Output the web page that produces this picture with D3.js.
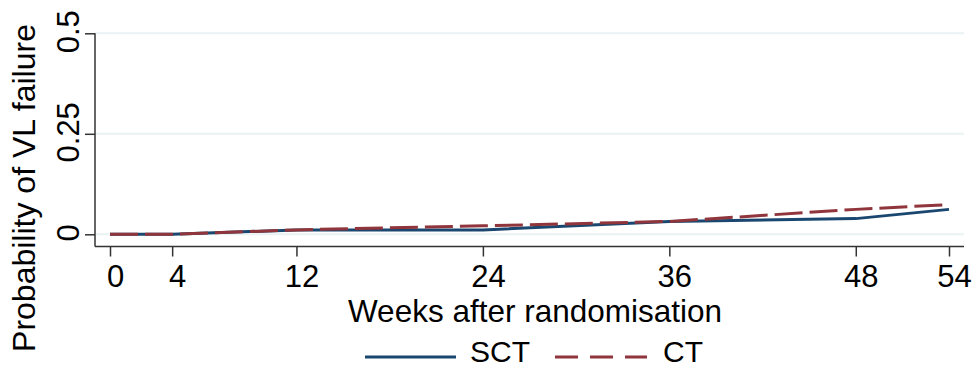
<!DOCTYPE html>
<html lang="en">
<head>
<meta charset="UTF-8">
<title>Probability of VL failure</title>
<script src="https://d3js.org/d3.v7.min.js"></script>
<style>
  body { margin: 0; background: #fff; }
  text { font-family: "Liberation Sans", Arial, sans-serif; fill: #000; }
</style>
</head>
<body>
<div id="chart"></div>
<script>
// data
const weeks = [0, 4, 12, 24, 36, 48, 54];
const sct = [0, 0, 0.011, 0.011, 0.032, 0.039, 0.062];
const ct = [0, 0, 0.011, 0.021, 0.032, 0.062, 0.074];
const yTicks = [0, 0.25, 0.5];
const yTickLabels = ["0", "0.25", "0.5"];
const seriesNames = ["SCT", "CT"];

const W = 974, H = 368;
const navy = "#1a476f", maroon = "#90353b";

const svg = d3.select("#chart").append("svg")
  .attr("width", W).attr("height", H);

// plot region
const left = 95, right = 964, axisY = 246.5;

const x = d3.scaleLinear().domain([0, 54]).range([110, 949]);
const y = d3.scaleLinear().domain([0, 0.5]).range([234.3, 33.3]);

// gridlines
svg.append("g").selectAll("line").data(yTicks).join("line")
  .attr("x1", left).attr("x2", right)
  .attr("y1", d => y(d)).attr("y2", d => y(d))
  .attr("stroke", "#eaf2f3").attr("stroke-width", 2);

// x axis
const xAxis = svg.append("g")
  .attr("transform", `translate(0,${axisY})`)
  .call(d3.axisBottom(x).tickValues(weeks).tickSize(10).tickPadding(8));
xAxis.select(".domain").remove();
xAxis.selectAll(".tick line").attr("stroke", "#333").attr("stroke-width", 1.5);
xAxis.selectAll(".tick text")
  .attr("font-size", 31).attr("dx", 5).attr("fill", "#000")
  .style("font-family", '"Liberation Sans", Arial, sans-serif');
svg.append("line")
  .attr("x1", left).attr("x2", right).attr("y1", axisY).attr("y2", axisY)
  .attr("stroke", "#333").attr("stroke-width", 1.5);

// y axis
const yAxis = svg.append("g")
  .attr("transform", `translate(${left},0)`)
  .call(d3.axisLeft(y).tickValues(yTicks).tickSize(10)
    .tickFormat((d, i) => yTickLabels[i]));
yAxis.select(".domain").remove();
yAxis.selectAll(".tick line").attr("stroke", "#333").attr("stroke-width", 1.5);
yAxis.selectAll(".tick text")
  .attr("font-size", 31).attr("fill", "#000")
  .style("font-family", '"Liberation Sans", Arial, sans-serif')
  .attr("x", null).attr("dy", null)
  .attr("text-anchor", "middle")
  .attr("transform", "translate(-16,-2) rotate(-90)");
svg.append("line")
  .attr("x1", left).attr("x2", left).attr("y1", y(0.5)).attr("y2", axisY)
  .attr("stroke", "#333").attr("stroke-width", 1.5);

// lines
const line = d3.line().x((d, i) => x(weeks[i])).y(d => y(d));

svg.append("path").datum(sct)
  .attr("fill", "none").attr("stroke", navy).attr("stroke-width", 3)
  .attr("d", line);

svg.append("path").datum(ct)
  .attr("fill", "none").attr("stroke", maroon).attr("stroke-width", 3)
  .attr("stroke-dasharray", "28,7")
  .attr("d", line);

// axis titles
svg.append("text")
  .attr("x", 535).attr("y", 322)
  .attr("text-anchor", "middle").attr("font-size", 31.5)
  .text("Weeks after randomisation");

svg.append("text")
  .attr("transform", "translate(35,188) rotate(-90)")
  .attr("text-anchor", "middle").attr("font-size", 32)
  .text("Probability of VL failure");

// legend
const legend = svg.append("g");
legend.append("line")
  .attr("x1", 365).attr("x2", 456).attr("y1", 357).attr("y2", 357)
  .attr("stroke", navy).attr("stroke-width", 3);
legend.append("text").attr("x", 470).attr("y", 362)
  .attr("font-size", 30).text(seriesNames[0]);
legend.append("line")
  .attr("x1", 555).attr("x2", 647).attr("y1", 357).attr("y2", 357)
  .attr("stroke", maroon).attr("stroke-width", 3)
  .attr("stroke-dasharray", "23,12");
legend.append("text").attr("x", 663).attr("y", 362)
  .attr("font-size", 30).text(seriesNames[1]);
</script>
</body>
</html>
